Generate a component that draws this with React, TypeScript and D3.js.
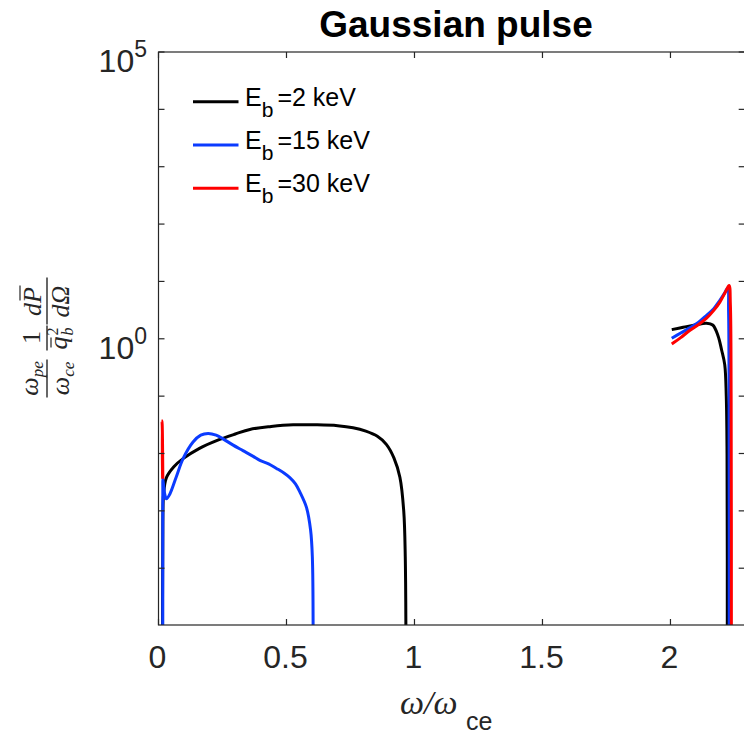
import React from "react";
import * as d3 from "d3";

// x ticks and log-scale decades
const xTicks = [0, 0.5, 1, 1.5, 2];
const yTickExps = [-4, -3, -2, -1, 0, 1, 2, 3, 4, 5];
const yLabelExps = [0, 5];

const legendLabels = ["2 keV", "15 keV", "30 keV"];
const seriesColors = ["#000000", "#0b3bff", "#ff0000"];

// omega/omega_ce and log10 of the power (null = gap between branches)
const omegaBlack = [
  0.016, 0.017, 0.02, 0.031, 0.06, 0.096, 0.16, 0.227, 0.3, 0.357, 0.44, 0.526, 0.62, 0.7, 0.76, 0.81, 0.855, 0.89,
  0.92, 0.943, 0.958, 0.964, 0.967, 1.5,
  2.005, 2.05, 2.1, 2.14, 2.165, 2.186, 2.2, 2.212, 2.218, 2.221, 2.222,
];
const logBlack = [
  -6, -3.2, -2.7, -2.42, -2.23, -2.09, -1.91, -1.775, -1.66, -1.58, -1.53, -1.5, -1.5, -1.515, -1.55, -1.61, -1.7, -1.84,
  -2.08, -2.415, -3.0, -3.8, -6, null,
  0.16, 0.2, 0.245, 0.27, 0.24, 0.05, -0.2, -0.45, -1.0, -2.0, -6,
];

const omegaBlue = [
  0.0165, 0.0168, 0.017, 0.024, 0.031, 0.044, 0.07, 0.096, 0.135, 0.165, 0.194, 0.225, 0.252, 0.29, 0.33, 0.37, 0.396,
  0.43, 0.461, 0.49, 0.513, 0.535, 0.552, 0.578, 0.594, 0.601, 0.604, 1.5,
  2.005, 2.04, 2.075, 2.11, 2.141, 2.17, 2.193, 2.212, 2.224, 2.227, 2.229, 2.2295,
];
const logBlue = [
  -6, -2.6, -2.44, -2.7, -2.79, -2.71, -2.4, -2.09, -1.8, -1.68, -1.65, -1.68, -1.745, -1.85, -1.95, -2.05, -2.12,
  -2.18, -2.26, -2.34, -2.42, -2.53, -2.67, -2.94, -3.33, -3.8, -6, null,
  0.01, 0.1, 0.19, 0.29, 0.41, 0.53, 0.67, 0.8, 0.89, 0.5, -1, -6,
];

const omegaRed = [
  0.016, 0.0135, 0.0145, 0.017, 1.5,
  2.005, 2.04, 2.075, 2.11, 2.141, 2.17, 2.193, 2.215, 2.229, 2.234, 2.237, 2.238,
];
const logRed = [
  -2.44, -1.43, -1.5, -2.44, null,
  -0.09, 0.02, 0.145, 0.25, 0.36, 0.5, 0.64, 0.82, 0.93, 0.6, -1, -6,
];

const W = 744;
const H = 736;
const left = 158.5;
const right = 744.7;
const top = 52;
const bottom = 625;

const axisColor = "#262626";
const sans = "'Liberation Sans', Arial, Helvetica, sans-serif";
const serif = "'Liberation Serif', 'Times New Roman', serif";

export default function App() {
  const x = d3.scaleLinear().domain([0, 2.29]).range([left, right]);
  const y = d3.scaleLog().domain([Math.pow(10, -4.99), 1e5]).range([bottom, top]);

  const line = d3
    .line<[number, number | null]>()
    .defined((d) => d[1] != null)
    .x((d) => x(d[0]))
    .y((d) => y(Math.pow(10, d[1] as number)))
    .curve(d3.curveCatmullRom.alpha(0.5));

  const series = [
    { om: omegaBlack, lg: logBlack },
    { om: omegaBlue, lg: logBlue },
    { om: omegaRed, lg: logRed },
  ];

  const tickLen = 6;

  return (
    <svg width={W} height={H} style={{ position: "absolute", left: 0, top: 0, background: "#fff" }}>
      <defs>
        <clipPath id="plot">
          <rect x={left} y={top} width={right - left} height={bottom - top} />
        </clipPath>
      </defs>

      {/* title */}
      <text x={456} y={37} textAnchor="middle" fontFamily={sans} fontWeight="bold" fontSize={37} fill="#000">
        Gaussian pulse
      </text>

      {/* curves */}
      <g clipPath="url(#plot)">
        {series.map((s, i) => (
          <path
            key={i}
            d={line(s.om.map((o, j) => [o, s.lg[j]] as [number, number | null])) ?? ""}
            fill="none"
            stroke={seriesColors[i]}
            strokeWidth={3}
            strokeLinejoin="round"
          />
        ))}
      </g>

      {/* box */}
      <rect x={left} y={top} width={right - left} height={bottom - top} fill="none" stroke={axisColor} strokeWidth={1.2} />

      {/* x ticks */}
      {xTicks.map((t) => (
        <g key={t}>
          <line x1={x(t)} x2={x(t)} y1={bottom} y2={bottom - tickLen} stroke={axisColor} strokeWidth={1.2} />
          <line x1={x(t)} x2={x(t)} y1={top} y2={top + tickLen} stroke={axisColor} strokeWidth={1.2} />
          <text x={x(t) - 1} y={668} textAnchor="middle" fontFamily={sans} fontSize={32} fill={axisColor}>
            {t}
          </text>
        </g>
      ))}

      {/* y ticks */}
      {yTickExps.map((e) => (
        <g key={e}>
          <line x1={left} x2={left + tickLen} y1={y(Math.pow(10, e))} y2={y(Math.pow(10, e))} stroke={axisColor} strokeWidth={1.2} />
          <line x1={right} x2={right - tickLen} y1={y(Math.pow(10, e))} y2={y(Math.pow(10, e))} stroke={axisColor} strokeWidth={1.2} />
        </g>
      ))}
      {yLabelExps.map((e) => (
        <text key={e} x={147} y={y(Math.pow(10, e)) + 20} textAnchor="end" fontFamily={sans} fontSize={32} fill={axisColor}>
          10
          <tspan fontSize={23} dy={-15}>
            {e}
          </tspan>
        </text>
      ))}

      {/* x label */}
      <text x={400} y={714} fontFamily={serif} fontStyle="italic" fontSize={34} fill={axisColor}>
        ω/ω
      </text>
      <text x={466} y={730} fontFamily={sans} fontSize={25} fill={axisColor}>
        ce
      </text>

      {/* y label */}
      <g transform="translate(47,338.5) rotate(-90)" fill={axisColor} fontFamily={serif}>
        {/* omega_pe / omega_ce */}
        <line x1={-59} x2={-21} y1={0} y2={0} stroke={axisColor} strokeWidth={1.4} />
        <text x={-40} y={-9} textAnchor="middle" fontStyle="italic" fontSize={26}>
          ω<tspan fontSize={17} dy={5}>pe</tspan>
        </text>
        <text x={-40} y={22} textAnchor="middle" fontStyle="italic" fontSize={26}>
          ω<tspan fontSize={17} dy={5}>ce</tspan>
        </text>
        {/* 1 / qbar_b^2 */}
        <line x1={-12} x2={13} y1={0} y2={0} stroke={axisColor} strokeWidth={1.4} />
        <text x={1} y={-7} textAnchor="middle" fontSize={26}>
          1
        </text>
        <text x={-11} y={20} fontStyle="italic" fontSize={26}>
          q
        </text>
        <line x1={-9} x2={1} y1={4} y2={4} stroke={axisColor} strokeWidth={1.2} />
        <text x={3} y={11} fontSize={16}>
          2
        </text>
        <text x={3} y={26} fontStyle="italic" fontSize={16}>
          b
        </text>
        {/* dPbar / dOmega */}
        <line x1={14} x2={61} y1={0} y2={0} stroke={axisColor} strokeWidth={1.4} />
        <text x={37} y={-6} textAnchor="middle" fontStyle="italic" fontSize={26}>
          dP
        </text>
        <line x1={38} x2={53} y1={-27} y2={-27} stroke={axisColor} strokeWidth={1.2} />
        <text x={37} y={22} textAnchor="middle" fontStyle="italic" fontSize={26}>
          dΩ
        </text>
      </g>

      {/* legend */}
      {legendLabels.map((lab, i) => {
        const ly = 101.7 + i * 43.3;
        return (
          <g key={lab}>
            <line x1={193} x2={238.5} y1={ly} y2={ly} stroke={seriesColors[i]} strokeWidth={3} />
            <text x={245} y={ly + 4} fontFamily={sans} fontSize={25} fill="#000">
              E
              <tspan fontSize={21} dy={11}>
                b
              </tspan>
              <tspan dx={4} dy={-11}>
                ={lab}
              </tspan>
            </text>
          </g>
        );
      })}
    </svg>
  );
}
